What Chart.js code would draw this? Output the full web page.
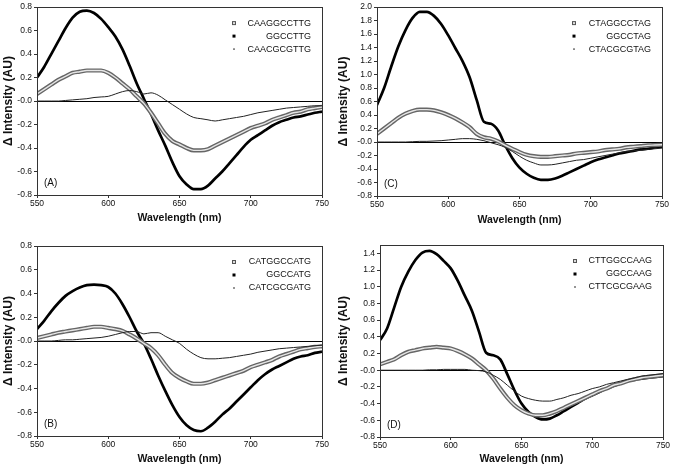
<!DOCTYPE html>
<html>
<head>
<meta charset="utf-8">
<title>Difference spectra</title>
<script src="https://cdn.jsdelivr.net/npm/chart.js@4.4.0/dist/chart.umd.min.js"></script>
<style>
    html, body { margin: 0; padding: 0; background: #fff; }
    body { width: 673px; height: 467px; position: relative; overflow: hidden; }
    canvas { position: absolute; }
</style>
</head>
<body>
<canvas id="chartA" width="336" height="232" style="left:0;top:0"></canvas>
<canvas id="chartC" width="338" height="232" style="left:335px;top:0"></canvas>
<canvas id="chartB" width="336" height="231" style="left:0;top:236px"></canvas>
<canvas id="chartD" width="338" height="231" style="left:335px;top:236px"></canvas>
<script>
"use strict";

// Wavelength grid (nm), read every 5 nm
const wavelength = [550, 555, 560, 565, 570, 575, 580, 585, 590, 595, 600, 605, 610, 615, 620, 625, 630, 635, 640, 645, 650,
    655, 660, 665, 670, 675, 680, 685, 690, 695, 700, 705, 710, 715, 720, 725, 730, 735, 740, 745, 750];

const xTicks = [550, 600, 650, 700, 750];
const yTicksSmall = [-0.8, -0.6, -0.4, -0.2, 0, 0.2, 0.4, 0.6, 0.8];
const yTicksC = [-0.8, -0.6, -0.4, -0.2, 0, 0.2, 0.4, 0.6, 0.8, 1.0, 1.2, 1.4, 1.6, 1.8, 2.0];
const yTicksD = [-0.8, -0.6, -0.4, -0.2, 0, 0.2, 0.4, 0.6, 0.8, 1.0, 1.2, 1.4];

// Panel A
const namesA = ['CAAGGCCTTG', 'GGCCTTG', 'CAACGCGTTG'];
const a1 = [0.06, 0.10, 0.14, 0.18, 0.21, 0.24, 0.25, 0.26, 0.26, 0.26, 0.24, 0.20, 0.15, 0.10, 0.04, -0.02, -0.10, -0.19, -0.28, -0.34, -0.37,
    -0.40, -0.42, -0.42, -0.41, -0.38, -0.35, -0.32, -0.29, -0.26, -0.23, -0.21, -0.19, -0.16, -0.14, -0.12, -0.10, -0.09, -0.07, -0.06, -0.05];
const a2 = [0.20, 0.29, 0.40, 0.51, 0.62, 0.71, 0.76, 0.77, 0.75, 0.70, 0.63, 0.55, 0.44, 0.30, 0.15, 0.02, -0.11, -0.25, -0.38, -0.52, -0.64,
    -0.71, -0.75, -0.75, -0.72, -0.66, -0.60, -0.53, -0.46, -0.39, -0.33, -0.29, -0.25, -0.21, -0.18, -0.16, -0.14, -0.13, -0.115, -0.10, -0.09];
const a3 = [0, 0, 0, 0, 0.005, 0.01, 0.015, 0.02, 0.03, 0.035, 0.04, 0.06, 0.08, 0.09, 0.08, 0.06, 0.07, 0.05, 0.01, -0.03, -0.07,
    -0.11, -0.14, -0.15, -0.16, -0.17, -0.16, -0.15, -0.14, -0.13, -0.115, -0.10, -0.09, -0.08, -0.07, -0.06, -0.055, -0.05, -0.045, -0.04, -0.04];

// Panel B
const namesB = ['CATGGCCATG', 'GGCCATG', 'CATCGCGATG'];
const b1 = [0.025, 0.04, 0.055, 0.07, 0.08, 0.09, 0.10, 0.11, 0.12, 0.12, 0.11, 0.10, 0.085, 0.055, 0.02, -0.02, -0.06, -0.12, -0.20, -0.27, -0.31,
    -0.34, -0.36, -0.36, -0.35, -0.33, -0.31, -0.29, -0.27, -0.25, -0.22, -0.20, -0.18, -0.16, -0.13, -0.11, -0.09, -0.07, -0.06, -0.05, -0.045];
const b2 = [0.10, 0.17, 0.25, 0.32, 0.38, 0.42, 0.45, 0.47, 0.475, 0.47, 0.455, 0.40, 0.31, 0.20, 0.08, -0.02, -0.15, -0.29, -0.42, -0.54, -0.64,
    -0.71, -0.75, -0.76, -0.73, -0.68, -0.62, -0.57, -0.51, -0.45, -0.39, -0.33, -0.28, -0.24, -0.21, -0.18, -0.15, -0.13, -0.12, -0.10, -0.09];
const b3 = [0, 0, 0, 0.005, 0.01, 0.01, 0.015, 0.02, 0.025, 0.03, 0.04, 0.055, 0.07, 0.08, 0.08, 0.06, 0.07, 0.07, 0.04, 0.01, -0.02,
    -0.07, -0.11, -0.14, -0.15, -0.15, -0.145, -0.14, -0.13, -0.12, -0.11, -0.095, -0.085, -0.075, -0.065, -0.06, -0.055, -0.05, -0.045, -0.04, -0.035];

// Panel C
const namesC = ['CTAGGCCTAG', 'GGCCTAG', 'CTACGCGTAG'];
const c1 = [0.12, 0.20, 0.28, 0.36, 0.42, 0.46, 0.48, 0.48, 0.47, 0.44, 0.40, 0.35, 0.29, 0.22, 0.12, 0.07, 0.05, 0.01, -0.05, -0.10, -0.15,
    -0.19, -0.21, -0.22, -0.22, -0.21, -0.20, -0.19, -0.17, -0.16, -0.15, -0.14, -0.12, -0.11, -0.10, -0.08, -0.07, -0.06, -0.05, -0.045, -0.04];
const c2 = [0.55, 0.80, 1.12, 1.42, 1.66, 1.84, 1.93, 1.93, 1.87, 1.75, 1.58, 1.39, 1.20, 0.96, 0.62, 0.30, 0.27, 0.17, -0.05, -0.24, -0.38,
    -0.47, -0.53, -0.56, -0.56, -0.54, -0.50, -0.45, -0.40, -0.35, -0.30, -0.26, -0.23, -0.20, -0.17, -0.15, -0.13, -0.11, -0.10, -0.08, -0.07];
const c3 = [0, 0, 0, 0, 0, 0.005, 0.01, 0.01, 0.015, 0.02, 0.03, 0.04, 0.05, 0.05, 0.04, 0.02, -0.01, -0.04, -0.08, -0.14, -0.21,
    -0.27, -0.31, -0.34, -0.34, -0.33, -0.31, -0.29, -0.27, -0.26, -0.24, -0.22, -0.20, -0.18, -0.16, -0.14, -0.13, -0.12, -0.11, -0.10, -0.09];

// Panel D
const namesD = ['CTTGGCCAAG', 'GGCCAAG', 'CTTCGCGAAG'];
const d1 = [0.07, 0.10, 0.13, 0.18, 0.22, 0.24, 0.26, 0.27, 0.28, 0.27, 0.26, 0.23, 0.19, 0.14, 0.07, 0.00, -0.10, -0.22, -0.33, -0.42, -0.48,
    -0.52, -0.54, -0.54, -0.52, -0.49, -0.45, -0.41, -0.37, -0.33, -0.29, -0.25, -0.22, -0.18, -0.16, -0.13, -0.11, -0.09, -0.08, -0.07, -0.06];
const d2 = [0.36, 0.50, 0.75, 1.00, 1.18, 1.32, 1.41, 1.43, 1.39, 1.31, 1.22, 1.07, 0.89, 0.71, 0.46, 0.21, 0.18, 0.13, -0.05, -0.24, -0.40,
    -0.50, -0.56, -0.59, -0.58, -0.54, -0.49, -0.44, -0.39, -0.34, -0.30, -0.26, -0.22, -0.19, -0.16, -0.13, -0.11, -0.10, -0.09, -0.08, -0.07];
const d3 = [0, 0, 0, 0, 0, 0, 0, 0.005, 0.005, 0.01, 0.01, 0.01, 0.01, 0, -0.005, -0.02, -0.06, -0.11, -0.18, -0.25, -0.31,
    -0.34, -0.36, -0.37, -0.37, -0.35, -0.33, -0.30, -0.28, -0.25, -0.22, -0.20, -0.17, -0.15, -0.13, -0.11, -0.09, -0.07, -0.06, -0.05, -0.04];

const FONT = "'Liberation Sans', Arial, sans-serif";
const AXIS = '#333';

function toPoints(values) {
    return values.map((v, i) => ({ x: wavelength[i], y: v }));
}

// box, panel letter and right-aligned legend
const decoPlugin = {
    id: 'deco',
    afterDraw(chart, args, opts) {
        const { ctx, chartArea: a } = chart;
        ctx.save();
        ctx.strokeStyle = AXIS;
        ctx.lineWidth = 1;
        ctx.strokeRect(Math.round(a.left) + 0.5, Math.round(a.top) + 0.5,
            Math.round(a.right - a.left), Math.round(a.bottom - a.top));

        ctx.fillStyle = '#111';
        ctx.font = '10px ' + FONT;
        ctx.textBaseline = 'middle';
        ctx.textAlign = 'left';
        ctx.fillText(opts.letter, a.left + 7, a.bottom - 12);

        ctx.font = '9px ' + FONT;
        ctx.textAlign = 'right';
        opts.names.forEach((name, i) => {
            const y = a.top + 16 + i * 13;
            const mx = a.right - 88;
            if (i === 0) {
                ctx.fillStyle = '#ddd';
                ctx.fillRect(mx - 1.5, y - 1.5, 3, 3);
                ctx.strokeStyle = '#555';
                ctx.strokeRect(mx - 1.5, y - 1.5, 3, 3);
            } else if (i === 1) {
                ctx.fillStyle = '#000';
                ctx.fillRect(mx - 1.5, y - 1.5, 3, 3);
            } else {
                ctx.fillStyle = '#444';
                ctx.fillRect(mx - 0.75, y - 0.75, 1.5, 1.5);
            }
            ctx.fillStyle = '#111';
            ctx.fillText(name, a.right - 11, y);
        });
        ctx.restore();
    }
};

function makeChart(id, cfg) {
    const canvas = document.getElementById(id);
    const w = canvas.width, h = canvas.height;
    const line = (data, color, width, order) => ({
        data: toPoints(data),
        borderColor: color,
        borderWidth: width,
        pointRadius: 0,
        fill: false,
        cubicInterpolationMode: 'monotone',
        order: order
    });

    return new Chart(canvas, {
        type: 'line',
        data: {
            datasets: [
                line(cfg.series[2], '#222', 1, 0),
                line(cfg.series[0], '#e6e6e6', 1.4, 1),
                line(cfg.series[0], '#666', 4.2, 2),
                line(cfg.series[1], '#000', 2.7, 3)
            ]
        },
        options: {
            responsive: false,
            animation: false,
            devicePixelRatio: 1,
            layout: { padding: { left: 0, top: cfg.top, right: w - cfg.right, bottom: 0 } },
            plugins: {
                legend: { display: false },
                tooltip: { enabled: false },
                deco: { letter: cfg.letter, names: cfg.names }
            },
            scales: {
                x: {
                    type: 'linear',
                    min: 550,
                    max: 750,
                    afterBuildTicks: s => { s.ticks = xTicks.map(v => ({ value: v })); },
                    afterFit: s => { s.height = h - cfg.bottom; },
                    grid: { drawOnChartArea: false, tickLength: 3, tickColor: AXIS },
                    border: { display: false },
                    ticks: { color: '#111', padding: 1, maxRotation: 0, font: { family: FONT, size: 8.5 } },
                    title: {
                        display: true,
                        text: 'Wavelength (nm)',
                        color: '#111',
                        font: { family: FONT, size: 10.5, weight: 'bold' },
                        padding: { top: 0, bottom: cfg.titlePad }
                    }
                },
                y: {
                    min: cfg.yMin,
                    max: cfg.yMax,
                    afterBuildTicks: s => { s.ticks = cfg.yTicks.map(v => ({ value: v })); },
                    afterFit: s => { s.width = cfg.left; },
                    grid: {
                        color: c => (c.tick && c.tick.value === 0 ? '#000' : 'rgba(0,0,0,0)'),
                        tickLength: 3,
                        tickColor: AXIS
                    },
                    border: { display: false },
                    ticks: {
                        color: '#111',
                        padding: 2,
                        font: { family: FONT, size: 8.5 },
                        callback: v => (Math.abs(v) < 1e-9 ? '-0.0' : v.toFixed(1))
                    },
                    title: {
                        display: true,
                        text: 'Δ Intensity (AU)',
                        color: '#111',
                        font: { family: FONT, size: 12, weight: 'bold' },
                        padding: { top: 1, bottom: 0 }
                    }
                }
            }
        },
        plugins: [decoPlugin]
    });
}

makeChart('chartA', { series: [a1, a2, a3], names: namesA, letter: '(A)', yMin: -0.8, yMax: 0.8, yTicks: yTicksSmall,
    left: 37, right: 322, top: 5, bottom: 195, titlePad: 8 });
makeChart('chartC', { series: [c1, c2, c3], names: namesC, letter: '(C)', yMin: -0.8, yMax: 2.0, yTicks: yTicksC,
    left: 42, right: 327, top: 5, bottom: 196, titlePad: 6 });
makeChart('chartB', { series: [b1, b2, b3], names: namesB, letter: '(B)', yMin: -0.8, yMax: 0.8, yTicks: yTicksSmall,
    left: 37, right: 322, top: 10, bottom: 200, titlePad: 2 });
makeChart('chartD', { series: [d1, d2, d3], names: namesD, letter: '(D)', yMin: -0.8, yMax: 1.5, yTicks: yTicksD,
    left: 45, right: 328, top: 9, bottom: 201, titlePad: 2 });
</script>
</body>
</html>
